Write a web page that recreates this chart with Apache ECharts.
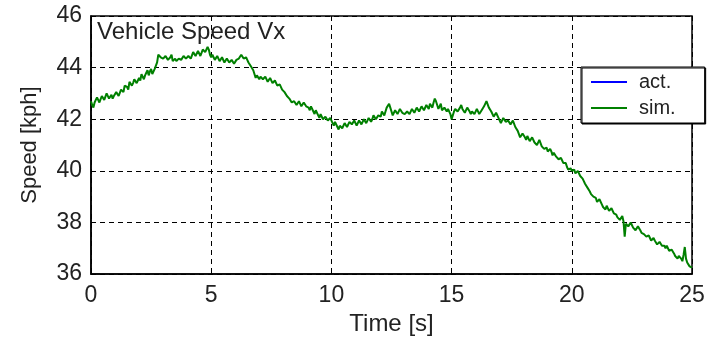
<!DOCTYPE html>
<html>
<head>
<meta charset="utf-8">
<script src="https://cdn.jsdelivr.net/npm/echarts@6/dist/echarts.min.js"></script>
<style>
  html, body { margin: 0; padding: 0; background: #ffffff; }
  #chart { width: 709px; height: 341px; }
</style>
</head>
<body>
<div id="chart"></div>
<script>
// Vehicle longitudinal speed, sampled every 0.05 s from 0 to 25 s
const chartTitle = 'Vehicle Speed Vx';
const xAxisName = 'Time [s]';
const yAxisName = 'Speed [kph]';
const seriesNames = ['act.', 'sim.'];
const sampleStep = 0.05;

const xTicks = [0, 5, 10, 15, 20, 25];
const yTicks = [36, 38, 40, 42, 44, 46];

// measured speed (not recorded in this run)
const actSpeed = [];

// simulated speed [kph], one row per second
const simSpeed = [
  42.7, 42.55, 42.45, 42.65, 42.75, 42.85, 42.8, 42.65, 42.7, 42.9, 42.9, 42.75, 42.8, 43.0, 42.95, 42.8, 42.85, 42.95, 42.8, 42.9,
  42.95, 43.05, 43.1, 42.9, 42.95, 43.15, 43.2, 43.05, 43.3, 43.35, 43.25, 43.15, 43.45, 43.5, 43.3, 43.4, 43.55, 43.6, 43.4, 43.5,
  43.6, 43.5, 43.75, 43.8, 43.55, 43.7, 43.8, 43.9, 43.7, 43.85, 43.95, 43.75, 43.8, 43.95, 43.9, 44.2, 44.5, 44.55, 44.4, 44.45,
  44.35, 44.3, 44.45, 44.4, 44.3, 44.35, 44.4, 44.5, 44.25, 44.3, 44.35, 44.25, 44.2, 44.35, 44.4, 44.3, 44.3, 44.45, 44.45, 44.35,
  44.35, 44.45, 44.5, 44.35, 44.4, 44.6, 44.55, 44.45, 44.45, 44.65, 44.6, 44.45, 44.5, 44.7, 44.75, 44.6, 44.55, 44.8, 44.7, 44.5,
  44.4, 44.5, 44.45, 44.3, 44.35, 44.45, 44.4, 44.25, 44.3, 44.4, 44.35, 44.2, 44.2, 44.35, 44.3, 44.2, 44.15, 44.3, 44.25, 44.15,
  44.2, 44.3, 44.3, 44.35, 44.4, 44.5, 44.45, 44.35, 44.35, 44.4, 44.3, 44.2, 44.15, 44.05, 44.05, 43.9, 43.85, 43.6, 43.7, 43.65,
  43.55, 43.65, 43.7, 43.55, 43.5, 43.65, 43.6, 43.45, 43.45, 43.6, 43.55, 43.4, 43.35, 43.5, 43.45, 43.3, 43.25, 43.35, 43.3, 43.15,
  43.1, 43.05, 43.0, 42.9, 42.85, 42.8, 42.75, 42.65, 42.6, 42.7, 42.7, 42.55, 42.55, 42.7, 42.65, 42.5, 42.5, 42.65, 42.6, 42.5,
  42.55, 42.45, 42.35, 42.5, 42.45, 42.3, 42.2, 42.35, 42.3, 42.15, 42.05, 42.2, 42.15, 42.0, 41.95, 42.1, 42.05, 41.95, 41.9, 42.05,
  42.0, 41.85, 41.75, 41.9, 41.85, 41.7, 41.6, 41.75, 41.8, 41.65, 41.7, 41.85, 41.85, 41.7, 41.75, 41.9, 41.95, 41.8, 41.8, 41.95,
  41.9, 41.75, 41.8, 41.95, 41.95, 41.8, 41.85, 42.0, 42.0, 41.85, 41.9, 42.05, 42.05, 41.9, 42.0, 42.15, 42.15, 42.0, 42.0, 42.15,
  42.2, 42.1, 42.3, 42.25, 42.15, 42.3, 42.45, 42.5, 42.6, 42.45, 42.3, 42.15, 42.2, 42.35, 42.35, 42.2, 42.25, 42.4, 42.4, 42.25,
  42.3, 42.2, 42.15, 42.3, 42.35, 42.2, 42.25, 42.4, 42.4, 42.25, 42.3, 42.45, 42.45, 42.3, 42.35, 42.5, 42.5, 42.35, 42.4, 42.55,
  42.5, 42.4, 42.6, 42.55, 42.45, 42.65, 42.8, 42.7, 42.55, 42.4, 42.5, 42.6, 42.35, 42.3, 42.45, 42.5, 42.3, 42.4, 42.4, 42.2,
  42.0, 42.15, 42.3, 42.4, 42.45, 42.3, 42.3, 42.45, 42.55, 42.4, 42.4, 42.25, 42.3, 42.45, 42.45, 42.3, 42.2, 42.3, 42.35, 42.2,
  42.25, 42.4, 42.35, 42.2, 42.2, 42.35, 42.4, 42.5, 42.55, 42.7, 42.65, 42.45, 42.4, 42.3, 42.3, 42.1, 42.15, 42.25, 42.2, 42.05,
  42.0, 41.85, 41.9, 42.05, 42.05, 41.9, 41.85, 41.95, 41.95, 41.8, 41.8, 41.95, 41.9, 41.7, 41.7, 41.55, 41.5, 41.3, 41.35, 41.45,
  41.4, 41.3, 41.2, 41.35, 41.3, 41.15, 41.15, 41.3, 41.25, 41.1, 41.1, 41.0, 41.0, 41.2, 41.15, 40.95, 40.9, 40.85, 40.8, 40.9,
  40.75, 40.7, 40.85, 40.75, 40.6, 40.7, 40.65, 40.55, 40.5, 40.45, 40.4, 40.5, 40.45, 40.3, 40.25, 40.3, 40.15, 40.05, 40.05, 40.1,
  40.0, 39.95, 40.05, 39.9, 39.9, 40.0, 39.95, 39.8, 39.75, 39.7, 39.6, 39.5, 39.45, 39.35, 39.3, 39.2, 39.1, 39.05, 39.0, 39.05,
  38.95, 38.8, 38.75, 38.9, 38.85, 38.7, 38.6, 38.55, 38.5, 38.65, 38.6, 38.45, 38.4, 38.55, 38.5, 38.35, 38.3, 38.3, 38.2, 38.2,
  38.1, 38.15, 38.25, 38.05, 37.45, 37.95, 38.0, 37.85, 37.9, 38.0, 37.95, 37.8, 37.8, 37.7, 37.75, 37.85, 37.85, 37.7, 37.6, 37.65,
  37.55, 37.6, 37.45, 37.4, 37.5, 37.4, 37.3, 37.35, 37.4, 37.3, 37.25, 37.15, 37.15, 37.25, 37.3, 37.1, 37.05, 37.1, 37.0, 37.1,
  37.0, 36.9, 36.85, 36.95, 36.95, 36.8, 36.7, 36.75, 36.6, 36.7, 36.75, 36.6, 36.5, 36.75, 37.05, 36.6, 36.45, 36.4, 36.3, 36.35,
  36.25
];

const toPairs = arr => arr.map((v, i) => [Number((i * sampleStep).toFixed(3)), v]);

const fontFamily = 'Liberation Sans, Arial, Helvetica, sans-serif';
const textColor = '#222222';

const chart = echarts.init(document.getElementById('chart'), null, { renderer: 'canvas' });

const dashed = { color: '#000000', width: 1, type: [5, 4] };

chart.setOption({
  animation: false,
  backgroundColor: '#ffffff',
  title: {
    text: chartTitle,
    left: 97,
    top: 20,
    padding: 0,
    textStyle: { fontFamily, fontSize: 24, fontWeight: 'normal', color: textColor }
  },
  legend: {
    orient: 'vertical',
    left: 581,
    top: 67,
    padding: [5, 29, 5, 10],
    itemGap: 6,
    itemWidth: 36,
    itemHeight: 2,
    icon: 'rect',
    backgroundColor: '#ffffff',
    borderColor: '#000000',
    borderWidth: 1,
    borderRadius: 0,
    shadowColor: '#000000',
    shadowOffsetX: 1,
    shadowOffsetY: 1,
    shadowBlur: 0,
    data: seriesNames,
    textStyle: { fontFamily, fontSize: 20, lineHeight: 20, color: textColor, padding: [0, 0, 0, 7] }
  },
  grid: {
    left: 91,
    right: 17,
    top: 16,
    bottom: 65,
    show: true,
    borderColor: '#000000',
    borderWidth: 1.5,
    backgroundColor: '#ffffff'
  },
  xAxis: {
    type: 'value',
    min: xTicks[0],
    max: xTicks[xTicks.length - 1],
    interval: xTicks[1] - xTicks[0],
    name: xAxisName,
    nameLocation: 'middle',
    nameGap: 37,
    nameTextStyle: { fontFamily, fontSize: 24, color: textColor },
    axisLine: { show: true, onZero: false, lineStyle: { color: '#000000', width: 1.5 } },
    axisTick: { show: true, inside: true, length: 4, lineStyle: { color: '#000000' } },
    axisLabel: { fontFamily, fontSize: 23, color: textColor, margin: 10 },
    splitLine: { show: true, lineStyle: dashed }
  },
  yAxis: {
    type: 'value',
    min: yTicks[0],
    max: yTicks[yTicks.length - 1],
    interval: yTicks[1] - yTicks[0],
    name: yAxisName,
    nameLocation: 'middle',
    nameGap: 50,
    nameRotate: 90,
    nameTextStyle: { fontFamily, fontSize: 22, color: textColor },
    axisLine: { show: true, onZero: false, lineStyle: { color: '#000000', width: 1.5 } },
    axisTick: { show: true, inside: true, length: 4, lineStyle: { color: '#000000' } },
    axisLabel: { fontFamily, fontSize: 23, color: textColor, margin: 9 },
    splitLine: { show: true, lineStyle: dashed }
  },
  series: [
    {
      name: seriesNames[0],
      type: 'line',
      data: toPairs(actSpeed),
      symbol: 'none',
      color: '#0000ff',
      lineStyle: { width: 1.5 }
    },
    {
      name: seriesNames[1],
      type: 'line',
      data: toPairs(simSpeed),
      symbol: 'none',
      color: '#008000',
      lineStyle: { width: 2 }
    }
  ]
});
</script>
</body>
</html>
